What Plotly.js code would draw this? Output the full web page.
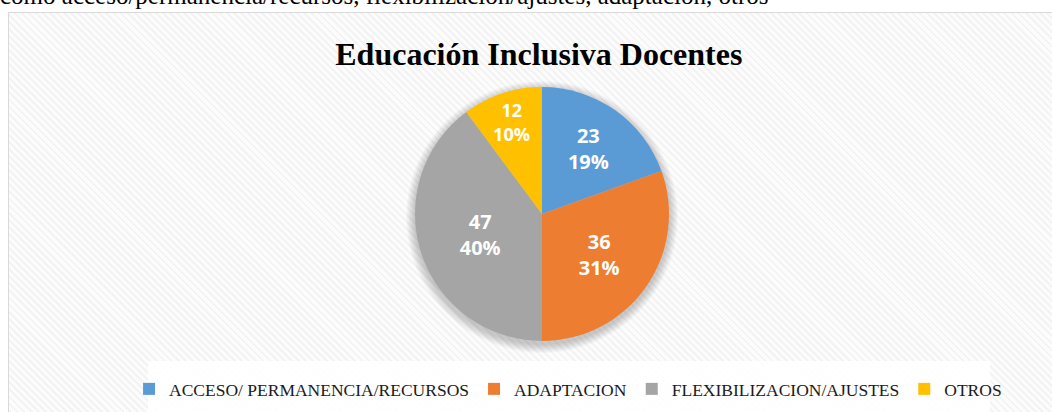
<!DOCTYPE html>
<html>
<head>
<meta charset="utf-8">
<script src="https://cdn.plot.ly/plotly-3.0.1.min.js"></script>
<style>
  html, body { margin: 0; padding: 0; background: #ffffff; width: 1052px; height: 412px; overflow: hidden; }
  #caption {
    position: absolute; left: 0; top: -18px; white-space: nowrap;
    font-family: "Liberation Serif", "Times New Roman", serif; font-size: 25px; color: #000;
    line-height: 28px;
  }
  #chart {
    position: absolute; left: 8px; top: 12px; width: 1044px; height: 400px;
    border-left: 1px solid #d9d9d9; border-top: 1px solid #d9d9d9; box-sizing: border-box;
    background: repeating-linear-gradient(45deg, #f3f3f3 0px, #f3f3f3 2px, #fcfcfc 2px, #fcfcfc 5px);
  }
</style>
</head>
<body>
<div id="caption">como acceso/permanencia/recursos, flexibilización/ajustes, adaptación, otros</div>
<div id="chart"></div>
<script>
const categories = ["ACCESO/ PERMANENCIA/RECURSOS", "ADAPTACION", "FLEXIBILIZACION/AJUSTES", "OTROS"];
const values = [23, 36, 47, 12];
const colors = ["#5B9BD5", "#ED7D31", "#A5A5A5", "#FFC000"];
const chartTitle = "Educación Inclusiva Docentes";

const W = 1043, H = 399;
const cx = 533, cy = 201, R = 127;

// soft shadow rings behind the pie
const shadow = [];
for (let k = 9; k >= 1; k--) {
  const r = R + k, dy = 3;
  shadow.push({
    type: "circle", xref: "paper", yref: "paper", layer: "below",
    x0: (cx - r) / W, x1: (cx + r) / W,
    y0: 1 - (cy + dy + r) / H, y1: 1 - (cy + dy - r) / H,
    fillcolor: "rgba(0,0,0,0.022)", line: { width: 0 }
  });
}

const trace = {
  type: "pie",
  labels: categories,
  values: values,
  sort: false,
  direction: "clockwise",
  rotation: 0,
  marker: { colors: colors, line: { color: "rgba(0,0,0,0)", width: 0 } },
  texttemplate: "%{value}<br>%{percent:.0%}",
  textposition: "inside",
  insidetextorientation: "horizontal",
  textfont: { family: "Open Sans, Noto Sans, sans-serif", size: 20, color: "#ffffff", weight: "bold" },
  hoverinfo: "none",
  domain: { x: [(cx - R) / W, (cx + R) / W], y: [1 - ((cy + R) / H), 1 - ((cy - R) / H)] }
};

const layout = {
  width: W, height: H,
  margin: { l: 0, r: 0, t: 0, b: 0 },
  paper_bgcolor: "rgba(0,0,0,0)",
  plot_bgcolor: "rgba(0,0,0,0)",
  title: {
    text: "<b>" + chartTitle + "</b>",
    font: { family: "Liberation Serif, Times New Roman, serif", size: 32, color: "#000000" },
    x: 0.508, xanchor: "center", xref: "container",
    y: 1 - 41 / H, yanchor: "middle", yref: "container"
  },
  showlegend: true,
  legend: {
    orientation: "h",
    x: 0.536, xanchor: "center",
    y: 1 - 376 / H, yanchor: "middle",
    font: { family: "Liberation Serif, Times New Roman, serif", size: 17.5, color: "#1a1a1a" },
    bgcolor: "rgba(0,0,0,0)",
    itemwidth: 30,
    traceorder: "normal"
  },
  shapes: shadow.concat([{
    type: "rect", xref: "paper", yref: "paper",
    x0: (148 - 9) / W, x1: (990 - 9) / W, y0: 0, y1: 1 - (348 / H),
    fillcolor: "rgba(255,255,255,0.85)", line: { width: 0 }, layer: "below"
  }])
};

Plotly.newPlot("chart", [trace], layout, { displayModeBar: false, staticPlot: true });
</script>
</body>
</html>
